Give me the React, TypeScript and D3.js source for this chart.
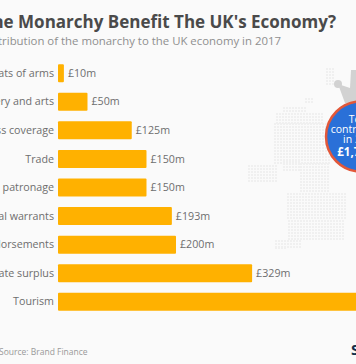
import React from "react";
import * as d3 from "d3";

const categories = ["Coats of arms","Gallery and arts","Press coverage","Trade","Royal patronage","Royal warrants","Endorsements","Crown Estate surplus","Tourism"];
const values = [10,50,125,150,150,193,200,329,550];
const valueLabels = ["£10m","£50m","£125m","£150m","£150m","£193m","£200m","£329m",""];
const titleText = "Does The Monarchy Benefit The UK's Economy?";
const subtitleText = "Contribution of the monarchy to the UK economy in 2017";
const sourceText = "Source: Brand Finance";
const calloutLines = ["Total","contribution","in 2017"];
const calloutTotal = "£1,766m";

// decorative dotted map: [y0, y1, x0, x1]
const mapSpans = [
  [68,84,326,334],[98,104,305,312],[107,113,283,306],[113,123,276,322],[123,163,274,330],[163,193,300,330],
  [165,183,248,278],[160,172,283,300],[193,220,287,347],[220,240,288,343],[240,247,275,300],[247,250,275,285],
];
const FONT = "'Open Sans', sans-serif";

export default function App() {
  const x = d3.scaleLinear().domain([0, 100]).range([58, 117]);
  const y = d3.scaleBand().domain(categories).range([59, 316]).paddingInner(0.37).paddingOuter(0.18);
  const dots: [number, number][] = [];
  mapSpans.forEach(([y0, y1, x0, x1]) => {
    for (let yy = y0; yy < y1; yy += 3) for (let xx = x0; xx < x1; xx += 3) dots.push([xx, yy]);
  });
  return (
    <svg width={356} height={364} style={{ position: "fixed", left: 0, top: 0, background: "#fafafa", fontFamily: FONT }}>
      <g fill="#f0f0f0">
        {dots.map(([a, b], i) => <rect key={i} x={a} y={b} width={2} height={2} />)}
      </g>
      <text x={336} y={28} textAnchor="end" fontSize={17} fontWeight={700} fill="#4a4a4a">{titleText}</text>
      <text x={281} y={45} textAnchor="end" fontSize={11.4} fill="#8f8f8f">{subtitleText}</text>
      {categories.map((c, i) => (
        <g key={c}>
          <rect x={x(0)} y={y(c)} width={x(values[i]) - x(0)} height={y.bandwidth()} rx={1} fill="#ffb100" />
          <text x={54} y={y(c)! + y.bandwidth() / 2 + 3.6} textAnchor="end" fontSize={10.7} fill="#6e6e6e">{c}</text>
          <text x={x(values[i]) + 4} y={y(c)! + y.bandwidth() / 2 + 3.6} fontSize={10.7} fill="#6e6e6e">{valueLabels[i]}</text>
        </g>
      ))}
      <path d="M338 84 L345 103 L358 103 L358 70 L351 70 L350 88 Z" fill="#d2d2d2" />
      <circle cx={338} cy={84} r={4} fill="#d2d2d2" />
      <circle cx={361} cy={136.5} r={35} fill="#2a70d8" stroke="#e2583a" strokeWidth={2.5} />
      <g textAnchor="middle" fill="#fff" fontSize={10.5}>
        {calloutLines.map((l, i) => <text key={l} x={361} y={123 + i * 10}>{l}</text>)}
        <text x={361} y={156} fontWeight={700} fontSize={11.5}>{calloutTotal}</text>
      </g>
      <text x={-1} y={355} fontSize={8.5} fill="#999">{sourceText}</text>
      <text x={351} y={355} fontSize={15} fontWeight={700} fill="#12304d">S</text>
    </svg>
  );
}
